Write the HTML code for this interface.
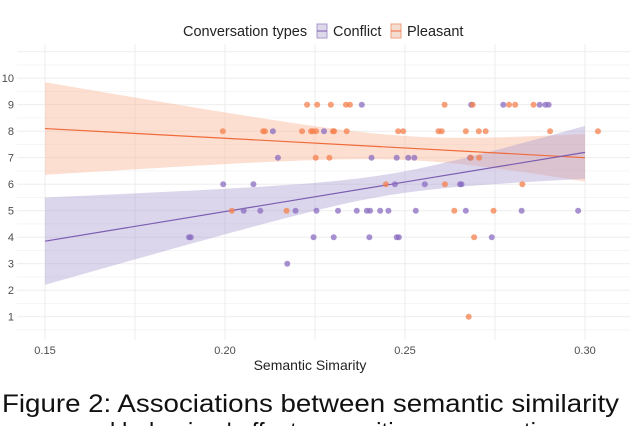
<!DOCTYPE html>
<html><head><meta charset="utf-8"><style>
html,body{margin:0;padding:0;background:#fff;width:632px;height:426px;overflow:hidden}
svg text{font-family:"Liberation Sans",sans-serif}
</style></head><body>
<svg id="chart" width="632" height="426" viewBox="0 0 632 426" xmlns="http://www.w3.org/2000/svg">
<g id="grid"></g>
<g id="ribbons"></g>
<g id="lines"></g>
<g id="points"></g>
<g id="axes"></g>
<g>
<text x="183" y="36" font-size="14.5" fill="#222">Conversation types</text>
<g>
<rect x="317" y="24" width="10" height="14" fill="#ddd8ea" stroke="#a99acb" stroke-width="1"/>
<line x1="317" y1="31" x2="327" y2="31" stroke="#7a5cb0" stroke-width="1"/>
<text x="333" y="36" font-size="14.5" fill="#222">Conflict</text></g>
<g>
<rect x="391" y="24" width="10" height="14" fill="#f5dcd0" stroke="#f2a080" stroke-width="1"/>
<line x1="391" y1="31" x2="401" y2="31" stroke="#f06a3a" stroke-width="1"/>
<text x="407" y="36" font-size="14.5" fill="#222">Pleasant</text></g>
</g>
<text x="310" y="370" font-size="14" text-anchor="middle" fill="#222">Semantic Simarity</text>
<text x="2" y="412" font-size="25" fill="#111" textLength="617" lengthAdjust="spacingAndGlyphs">Figure 2: Associations between semantic similarity</text>
<text x="75" y="440" font-size="25" fill="#111" textLength="500" lengthAdjust="spacingAndGlyphs">and behaviors' effect on positive conversations</text>
</svg>
<script>
const xTicks=[0.15,0.20,0.25,0.30];
const yTicks=[1,2,3,4,5,6,7,8,9,10];
const conflictX=[0.238,0.2133,0.2275,0.2147,0.2407,0.2477,0.2509,0.2526,0.2681,0.1995,0.2079,0.2472,0.2555,0.2653,0.2657,0.2052,0.2098,0.2196,0.2254,0.2314,0.2366,0.2394,0.2403,0.2431,0.2454,0.253,0.2669,0.2824,0.2981,0.19,0.1905,0.2246,0.2302,0.2401,0.2477,0.2483,0.2741,0.2173,0.2684,0.2773,0.2874,0.289,0.2899];
const conflictY=[9,8,8,7,7,7,7,7,7,6,6,6,6,6,6,5,5,5,5,5,5,5,5,5,5,5,5,5,5,4,4,4,4,4,4,4,4,3,9,9,9,9,9];
const pleasantX=[0.2228,0.2256,0.2294,0.2336,0.2347,0.261,0.2688,0.2789,0.2806,0.2857,0.1994,0.2106,0.2111,0.2214,0.2239,0.2244,0.2253,0.23,0.2303,0.2338,0.2481,0.2495,0.2593,0.2602,0.2669,0.2705,0.2724,0.2903,0.3036,0.2252,0.229,0.2683,0.2706,0.2447,0.2611,0.2826,0.2019,0.2171,0.2637,0.2746,0.2692,0.2677];
const pleasantY=[9,9,9,9,9,9,9,9,9,9,8,8,8,8,8,8,8,8,8,8,8,8,8,8,8,8,8,8,8,7,7,7,7,6,6,6,5,5,5,5,4,1];
const conflictFit=[3.85,7.2];
const pleasantFit=[8.1,7.0];
const conflictBand=[0.4,281,0.2454];
const pleasantBand=[0.45,271,0.2526];

const NS="http://www.w3.org/2000/svg";
const X=v=>45+(v-0.15)*3600;
const Y=v=>104.7+(9-v)*26.5;
function mk(tag,attrs,parent){const e=document.createElementNS(NS,tag);for(const k in attrs)e.setAttribute(k,attrs[k]);parent.appendChild(e);return e;}
const grid=document.getElementById('grid'),axes=document.getElementById('axes');
const L=17,R=630,T=44,B=340;
for(let v=0.5;v<=11;v+=0.5){const y=Y(v);if(y<T||y>B)continue;
 const ln=mk('line',{x1:L,x2:R,y1:y,y2:y,stroke:'#ebebeb','stroke-width':Number.isInteger(v)?0.9:0.5},grid);
 
 }
for(let v=0.15;v<=0.3126;v+=0.025){const x=X(v);if(x<L||x>R)continue;
 const ln=mk('line',{x1:x,x2:x,y1:T,y2:B,stroke:'#ebebeb','stroke-width':0.9},grid);
 
 }
xTicks.forEach(t=>{const e=mk('text',{x:X(t),y:354,'font-size':11,'text-anchor':'middle',fill:'#4d4d4d'},axes);e.textContent=t.toFixed(2);
 
 });
yTicks.forEach(t=>{const e=mk('text',{x:14,y:Y(t)+4,'font-size':11,'text-anchor':'end',fill:'#4d4d4d'},axes);e.textContent=t;
 
 });
const rib=document.getElementById('ribbons'),lines=document.getElementById('lines');
function series(fit,band,fill,op,stroke,name){
 const f=x=>fit[0]+(fit[1]-fit[0])*(x-0.15)/0.15;
 const hw=x=>Math.sqrt(band[0]*band[0]+band[1]*(x-band[2])*(x-band[2]));
 let up=[],lo=[];
 for(let i=0;i<=60;i++){const x=0.15+0.15*i/60;up.push(X(x)+','+Y(f(x)+hw(x)));lo.unshift(X(x)+','+Y(f(x)-hw(x)));}
 const p=mk('polygon',{points:up.concat(lo).join(' '),fill:fill,'fill-opacity':op},rib);
 
 
 const l=mk('line',{x1:X(0.15),y1:Y(fit[0]),x2:X(0.3),y2:Y(fit[1]),stroke:stroke,'stroke-width':1.2},lines);
 
 
}
series(pleasantFit,pleasantBand,'#fbb99a',0.45,'#f06a3a','pleasant');
series(conflictFit,conflictBand,'#a898cf',0.4,'#7a5cb0','conflict');
const pts=document.getElementById('points');
function dots(xs,ys,col,name){xs.forEach((x,i)=>{const c=mk('circle',{cx:X(x),cy:Y(ys[i]),r:3,fill:col,'fill-opacity':0.75},pts);
 
 });}
dots(conflictX,conflictY,'#8a6cc0','conflict');
dots(pleasantX,pleasantY,'#f5804e','pleasant');
</script>
</body></html>
